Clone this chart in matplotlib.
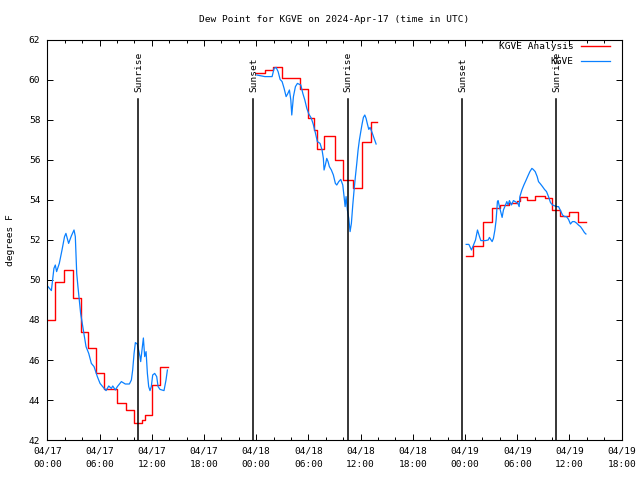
import numpy as np
import pandas as pd
import matplotlib
matplotlib.use("Agg")
from matplotlib import pyplot as plt
import matplotlib.dates as mdates

# Hours after 2024-04-17 00:00 UTC, dew point in degrees F
start = pd.Timestamp("2024-04-17 00:00")

# KGVE Analysis (hourly, stepped)
red1_h = [0.0, 0.87, 1.97, 2.96, 3.85, 4.65, 5.54, 6.53, 8.02, 9.01, 10.01, 10.9, 11.2, 11.99, 12.98, 13.88]
red1_v = [48.0, 49.9, 50.5, 49.1, 47.4, 46.6, 45.35, 44.55, 43.85, 43.5, 42.85, 43.0, 43.25, 44.75, 45.65, 45.65]
red2_h = [24.0, 25.0, 25.99, 26.98, 29.06, 29.96, 30.7, 30.95, 31.74, 33.03, 34.03, 35.12, 36.21, 37.2, 37.9]
red2_v = [60.33, 60.5, 60.67, 60.08, 59.55, 58.1, 57.5, 56.55, 57.2, 56.0, 55.0, 54.6, 56.9, 57.9, 57.9]
red3_h = [48.12, 48.92, 50.11, 51.1, 51.99, 53.08, 53.98, 54.27, 55.07, 56.06, 57.15, 57.99, 58.94, 59.93, 60.97, 61.87]
red3_v = [51.2, 51.7, 52.92, 53.58, 53.75, 53.83, 53.95, 54.13, 54.0, 54.2, 54.08, 53.5, 53.2, 53.42, 52.92, 52.92]

# KGVE observations
blue1_h = [0.08, 0.47, 0.76, 0.92, 1.07, 1.38, 1.69, 1.98, 2.14, 2.45, 2.76, 3.07, 3.22, 3.38, 3.52, 3.83,
           4.14, 4.45, 4.76, 5.06, 5.37, 5.75, 6.06, 6.36, 6.75, 7.06, 7.36, 7.52, 7.82, 8.05, 8.51, 8.96,
           9.43, 9.66, 9.81, 9.97, 10.12, 10.34, 10.65, 10.73, 10.88, 11.04, 11.19, 11.35, 11.5, 11.65,
           11.8, 11.95, 12.11, 12.34, 12.57, 12.73, 12.95, 13.18, 13.41, 13.64, 13.8]
blue1_v = [49.67, 49.47, 50.58, 50.75, 50.42, 50.83, 51.5, 52.17, 52.33, 51.83, 52.2, 52.5, 52.17, 50.33, 49.67, 48.33,
           47.5, 46.67, 46.33, 45.83, 45.67, 45.17, 44.83, 44.67, 44.47, 44.7, 44.58, 44.7, 44.5, 44.67, 44.92, 44.8,
           44.8, 45.0, 45.5, 46.33, 46.87, 46.8, 46.17, 45.92, 46.5, 47.1, 46.17, 46.42, 45.33, 44.67,
           44.47, 44.67, 45.25, 45.33, 45.17, 44.67, 44.53, 44.5, 44.47, 45.0, 45.5]
blue2_h = [24.07, 24.99, 25.83, 26.06, 26.29, 26.52, 26.75, 26.98, 27.21, 27.44, 27.61, 27.82, 27.98, 28.09, 28.28,
           28.51, 28.74, 29.13, 29.36, 29.59, 29.82, 30.05, 30.32, 30.55, 30.78, 31.03, 31.34, 31.57, 31.72, 31.8,
           31.95, 32.11, 32.26, 32.41, 32.64, 32.87, 33.1, 33.26, 33.49, 33.72, 33.95, 34.1, 34.22, 34.33, 34.48,
           34.64, 34.79, 34.94, 35.1, 35.25, 35.4, 35.56, 35.71, 35.86, 36.02, 36.17, 36.32, 36.48, 36.63, 36.78,
           36.94, 37.09, 37.32, 37.55, 37.78]
blue2_v = [60.25, 60.17, 60.17, 60.58, 60.63, 60.42, 60.03, 59.92, 59.58, 59.17, 59.3, 59.5, 59.0, 58.25, 59.17,
           59.67, 59.83, 59.75, 59.33, 59.0, 58.58, 58.3, 58.1, 57.8, 57.4, 56.92, 56.83, 56.5, 56.08, 55.5,
           55.75, 56.08, 55.92, 55.67, 55.5, 55.25, 54.83, 54.75, 54.92, 55.03, 54.75, 54.17, 53.67, 54.17, 53.5,
           53.08, 52.42, 52.83, 53.75, 54.5, 55.17, 55.83, 56.5, 57.0, 57.42, 57.8, 58.13, 58.25, 58.08, 57.8,
           57.53, 57.63, 57.37, 57.08, 56.8]
blue3_h = [48.13, 48.44, 48.74, 48.9, 49.2, 49.43, 49.66, 49.82, 50.34, 50.66, 50.8, 51.11, 51.26, 51.43, 51.57,
           51.72, 51.8, 51.95, 52.26, 52.41, 52.57, 52.8, 52.95, 53.1, 53.33, 53.56, 53.76, 54.07, 54.22, 54.3,
           54.53, 54.76, 54.99, 55.22, 55.45, 55.68, 55.83, 56.06, 56.29, 56.44, 56.67, 56.9, 57.13, 57.36, 57.59,
           57.82, 58.05, 58.51, 58.74, 58.97, 59.2, 59.43, 59.66, 59.89, 60.11, 60.34, 60.57, 60.8, 61.03, 61.26,
           61.49, 61.72, 61.89]
blue3_v = [51.78, 51.78, 51.5, 51.67, 52.0, 52.5, 52.17, 51.97, 51.97, 52.0, 52.13, 51.92, 52.08, 52.5, 53.0,
           53.92, 53.97, 53.67, 53.13, 53.5, 53.67, 53.92, 53.75, 53.97, 53.75, 53.97, 53.92, 53.83, 53.67, 54.17,
           54.5, 54.75, 54.97, 55.2, 55.42, 55.58, 55.53, 55.42, 55.17, 54.92, 54.8, 54.67, 54.53, 54.42, 54.17,
           53.87, 53.75, 53.67, 53.67, 53.47, 53.25, 53.17, 53.17, 53.03, 52.8, 52.92, 52.92, 52.85, 52.75, 52.67,
           52.53, 52.37, 52.3]

sun_times = ["2024-04-17 10:28", "2024-04-17 23:41", "2024-04-18 10:31", "2024-04-18 23:42", "2024-04-19 10:30"]
sun_labels = ["Sunrise", "Sunset", "Sunrise", "Sunset", "Sunrise"]


def to_time(hours):
    return start + pd.to_timedelta(np.array(hours), unit="h")


plt.rcParams['font.family'] = ['DejaVu Sans Mono']
fs = 6.8

fig = plt.figure(figsize=(6.4, 4.8), dpi=100)
ax = fig.add_axes([47.3 / 640, 40 / 480, 574.4 / 640, 400 / 480])

red_segs = [(red1_h, red1_v), (red2_h, red2_v), (red3_h, red3_v)]
blue_segs = [(blue1_h, blue1_v), (blue2_h, blue2_v), (blue3_h, blue3_v)]

for i, (h, v) in enumerate(red_segs):
    ax.plot(to_time(h), v, color="#ff0000", lw=1.0, drawstyle="steps-post",
            label="KGVE Analysis" if i == 0 else None)
for i, (h, v) in enumerate(blue_segs):
    ax.plot(to_time(h), v, color="#0a80ff", lw=0.9,
            label="KGVE" if i == 0 else None)

# sunrise / sunset markers
for t, lab in zip(sun_times, sun_labels):
    ts = pd.Timestamp(t)
    ax.axvline(ts, ymin=0, ymax=0.853, color="black", lw=1.1)
    ax.text(ts, 0.87, lab, transform=ax.get_xaxis_transform(), rotation=90,
            ha="center", va="bottom", fontsize=fs)

ax.set_xlim(start, pd.Timestamp("2024-04-19 18:00"))
ax.set_ylim(42, 62)
ax.set_yticks(np.arange(42, 63, 2))
ax.xaxis.set_major_locator(mdates.HourLocator(byhour=[0, 6, 12, 18]))
ax.xaxis.set_minor_locator(mdates.HourLocator(byhour=range(0, 24, 2)))
ax.xaxis.set_major_formatter(mdates.DateFormatter("%m/%d\n%H:%M"))
ax.tick_params(which="both", direction="in", top=True, right=True, labelsize=fs, width=0.7)
ax.tick_params(which="major", length=4.5, pad=5)
ax.tick_params(which="minor", length=2.3)
for lbl in ax.get_xticklabels():
    lbl.set_linespacing(1.6)
for sp in ax.spines.values():
    sp.set_linewidth(0.8)

ax.set_title("Dew Point for KGVE on 2024-Apr-17 (time in UTC)", fontsize=fs, pad=13)
ax.set_ylabel("degrees F", fontsize=fs, labelpad=10)

ax.legend(loc="upper right", bbox_to_anchor=(1 - 11.7 / 574.4, 1 - 2.5 / 400),
          frameon=False, fontsize=fs, markerfirst=False,
          handlelength=3.1, handletextpad=0.75, labelspacing=0.6,
          borderaxespad=0.0, borderpad=0.0)

plt.savefig("out.png", dpi=100)
